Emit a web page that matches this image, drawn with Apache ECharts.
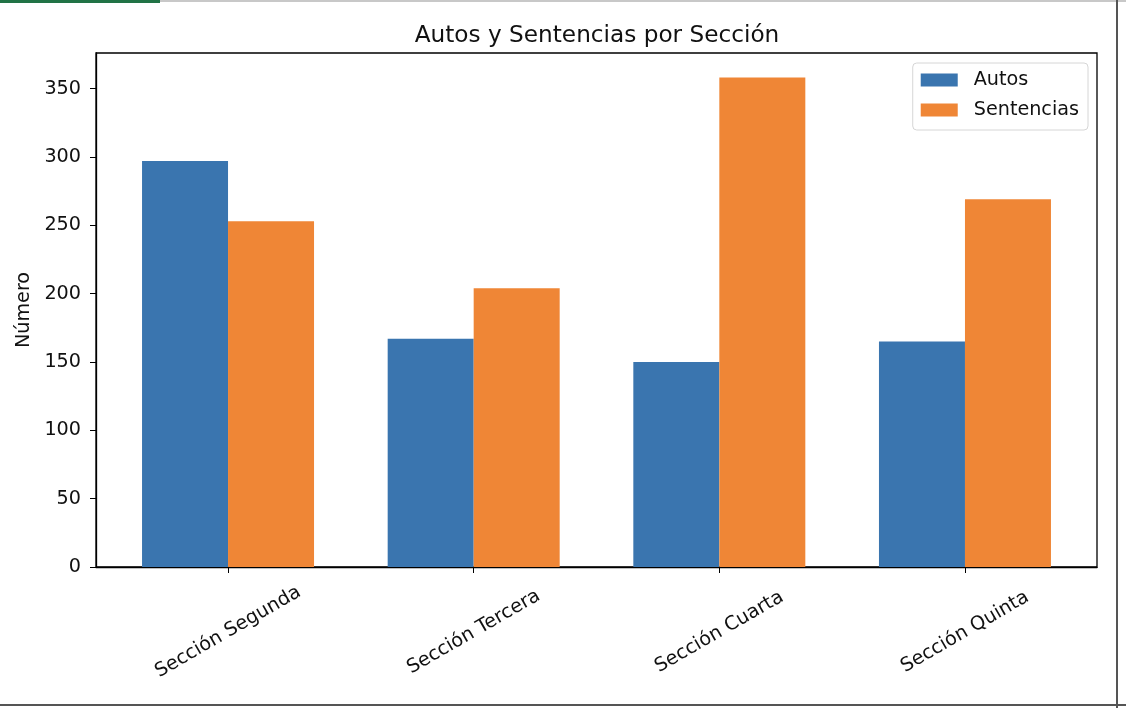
<!DOCTYPE html>
<html>
<head>
<meta charset="utf-8">
<script src="https://cdn.jsdelivr.net/npm/echarts@6/dist/echarts.min.js"></script>
<style>
  html, body { margin: 0; padding: 0; background: #fff; }
  #main { width: 1126px; height: 708px; }
</style>
</head>
<body>
<div id="main"></div>
<script>
// datos
var secciones = ['Sección Segunda', 'Sección Tercera', 'Sección Cuarta', 'Sección Quinta'];
var autos = [297, 167, 150, 165];
var sentencias = [253, 204, 358, 269];
var yTicks = [0, 50, 100, 150, 200, 250, 300, 350];

var FONT = 'DejaVu Sans';
var FS = 19.2;
var myChart = echarts.init(document.getElementById('main'));

function toPairs(arr) {
	return arr.map(function(v, i) { return [i, v]; });
}

var option = {
	animation: false,
	backgroundColor: '#fff',
	color: ['#3A75AF', '#EF8636'],
	title: {
		text: 'Autos y Sentencias por Sección',
		left: 592,
		top: 19,
		textAlign: 'center',
		textStyle: { fontFamily: FONT, fontSize: 23.2, fontWeight: 'normal', color: '#111' }
	},
	legend: {
		orient: 'vertical',
		right: 38,
		top: 63,
		icon: 'rect',
		itemWidth: 37,
		itemHeight: 13,
		itemGap: 8,
		padding: [6, 9, 9, 8],
		backgroundColor: '#fff',
		borderColor: '#d6d6d6',
		borderWidth: 1,
		borderRadius: 4,
		textStyle: { fontFamily: FONT, fontSize: FS, color: '#111', lineHeight: 22, padding: [0, 0, 0, 11] },
		data: ['Autos', 'Sentencias']
	},
	grid: {
		left: 96, right: 29, top: 53, bottom: 141,
		show: true, borderColor: '#000', borderWidth: 1.3, backgroundColor: 'transparent'
	},
	xAxis: {
		type: 'value',
		min: -0.5375,
		max: 3.5375,
		splitLine: { show: false },
		axisLine: { show: true, onZero: false, lineStyle: { color: '#000', width: 1.3 } },
		axisTick: { show: true, length: 6, customValues: [0, 1, 2, 3], lineStyle: { color: '#000' } },
		axisLabel: {
			customValues: [0, 1, 2, 3],
			formatter: function(v) { return secciones[Math.round(v)]; },
			rotate: 30,
			align: 'center',
			verticalAlign: 'middle',
			margin: 65,
			fontFamily: FONT, fontSize: FS, color: '#111'
		}
	},
	yAxis: {
		type: 'value',
		min: 0,
		max: 376,
		name: 'Número',
		nameLocation: 'middle',
		nameGap: 61,
		nameTextStyle: { fontFamily: FONT, fontSize: FS, color: '#111' },
		splitLine: { show: false },
		axisLine: { show: true, onZero: false, lineStyle: { color: '#000', width: 1.3 } },
		axisTick: { show: true, length: 6, customValues: yTicks, lineStyle: { color: '#000' } },
		axisLabel: { customValues: yTicks, margin: 15, fontFamily: FONT, fontSize: FS, color: '#111' }
	},
	series: [
		{ name: 'Autos', type: 'bar', barWidth: 86, barGap: '0%', data: toPairs(autos) },
		{ name: 'Sentencias', type: 'bar', barWidth: 86, barGap: '0%', data: toPairs(sentencias) }
	],
	// marco de la hoja de calculo alrededor de la imagen
	graphic: [
		{ type: 'rect', shape: { x: 0, y: 0, width: 160, height: 3 }, style: { fill: '#217346' }, silent: true },
		{ type: 'rect', shape: { x: 160, y: 0, width: 966, height: 2 }, style: { fill: '#c8c8c8' }, silent: true },
		{ type: 'rect', shape: { x: 1116, y: 0, width: 2, height: 708 }, style: { fill: '#555' }, silent: true },
		{ type: 'rect', shape: { x: 0, y: 704, width: 1126, height: 2 }, style: { fill: '#555' }, silent: true }
	]
};

myChart.setOption(option);
</script>
</body>
</html>
